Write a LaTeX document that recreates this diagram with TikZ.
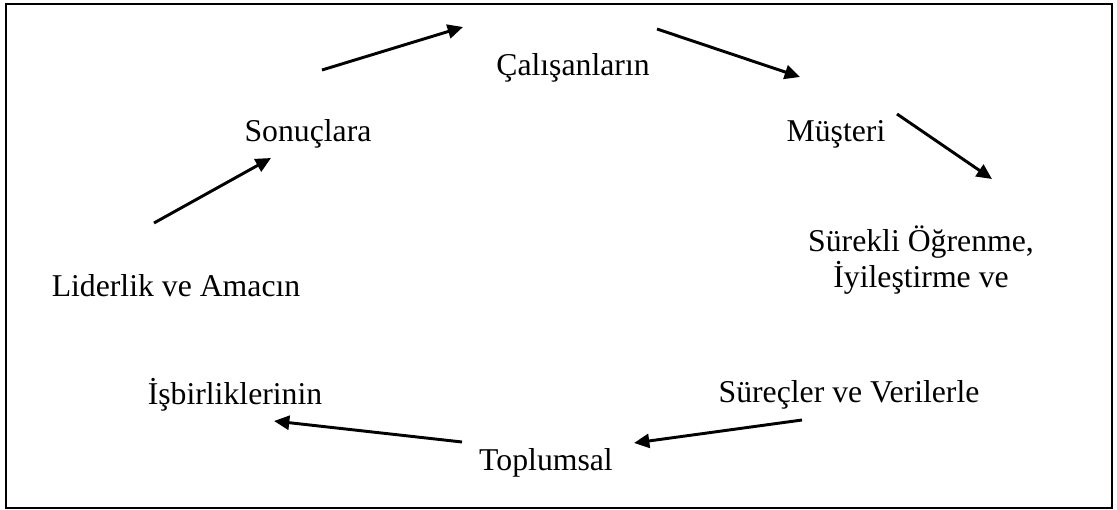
\documentclass[tikz,border=0pt]{standalone}
\usepackage{fontspec}
\setmainfont{Liberation Serif}
\usetikzlibrary{arrows.meta}
\begin{document}
\begin{tikzpicture}[x=0.75pt,y=-0.75pt,
  lbl/.style={font=\fontsize{23.8}{27}\selectfont, inner sep=0pt, anchor=base, align=center},
  flow/.style={line width=2.2pt, -{Triangle[length=11.5pt,width=10.5pt]}}]
\useasboundingbox (0,0) rectangle (1117,510);
\draw[line width=1.6pt] (6,4) rectangle (1112,508);

\node[lbl] (cal) at (573,75) {Çalışanların};
\node[lbl] (son) at (308,142) {Sonuçlara};
\node[lbl] (mus) at (836,142) {Müşteri};
\node[lbl] (sur) at (921,287) {Sürekli Öğrenme,\\İyileştirme ve};
\node[lbl] (lid) at (176,296) {Liderlik ve Amacın};
\node[lbl] (isb) at (235,404) {İşbirliklerinin};
\node[lbl] (sve) at (849,402) {Süreçler ve Verilerle};
\node[lbl] (top) at (546,470) {Toplumsal};

\coordinate (a1s) at (322,70);  \coordinate (a1e) at (463,27);
\coordinate (a2s) at (154,223); \coordinate (a2e) at (271,158);
\coordinate (a3s) at (657,29);  \coordinate (a3e) at (800,77);
\coordinate (a4s) at (897,114); \coordinate (a4e) at (992,179);
\coordinate (a5s) at (802,420); \coordinate (a5e) at (634,443);
\coordinate (a6s) at (462,442); \coordinate (a6e) at (274,421);

\draw[flow] (a1s) -- (a1e);
\draw[flow] (a2s) -- (a2e);
\draw[flow] (a3s) -- (a3e);
\draw[flow] (a4s) -- (a4e);
\draw[flow] (a5s) -- (a5e);
\draw[flow] (a6s) -- (a6e);
\end{tikzpicture}
\end{document}
